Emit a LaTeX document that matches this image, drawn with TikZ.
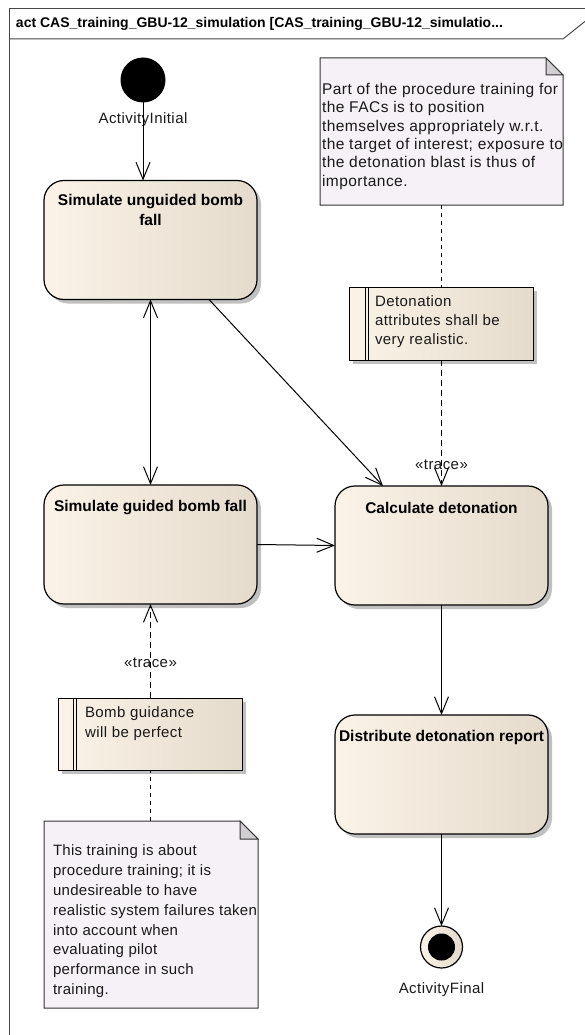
\documentclass[tikz,border=0pt]{standalone}
\usepackage{fontspec}
\setmainfont{Liberation Sans}
\newfontfamily\spacedfont[LetterSpace=3]{Liberation Sans}
\newfontfamily\tightfont[LetterSpace=2]{Liberation Sans}
\usetikzlibrary{arrows.meta,shadows,calc}

\definecolor{creamL}{RGB}{251,243,231}
\definecolor{creamR}{RGB}{228,219,204}
\definecolor{notefill}{RGB}{246,241,246}
\definecolor{foldfill}{RGB}{210,206,212}
\definecolor{shadowgray}{RGB}{192,192,192}
\definecolor{framegray}{RGB}{70,70,70}

\begin{document}
\begin{tikzpicture}[x=1pt,y=-1pt,
  base/.style={inner sep=0pt, outer sep=0pt},
  txt/.style={base, font=\spacedfont\fontsize{15}{18}\selectfont, text=black!90},
  notetxt/.style={txt, anchor=north west, align=left},
  actbox/.style={base, draw=black, line width=1.2pt, rounded corners=20pt,
    left color=creamL, right color=creamR,
    drop shadow={shadow xshift=4pt, shadow yshift=-4pt, fill=shadowgray, opacity=1},
    minimum width=213pt, minimum height=119pt},
  acttitle/.style={base, anchor=north, align=center,
    font=\bfseries\fontsize{15.5}{20}\selectfont},
  reqbox/.style={base, anchor=north west, draw=black, line width=1pt,
    left color=creamL, right color=creamR,
    drop shadow={shadow xshift=4pt, shadow yshift=-4pt, fill=shadowgray, opacity=1},
    minimum width=184pt, minimum height=73pt},
  noteframe/.style={base, anchor=north west},
  noteline/.style={draw=black!80, line width=1pt, fill=notefill},
  foldline/.style={draw=black!80, line width=1pt, fill=foldfill},
  flow/.style={draw=black, line width=1pt, -{Straight Barb[length=17pt,width=14pt]}},
  traceflow/.style={flow, dash pattern=on 6pt off 4pt},
  anchorline/.style={draw=black, line width=1pt, dash pattern=on 4pt off 4pt},
]
\useasboundingbox (0,0) rectangle (585,1035);
\fill[white] (0,0) rectangle (585,1035);

% diagram frame and its name tab
\draw[framegray, line width=1pt] (9,1035) -- (9,9) -- (585,9);
\draw[framegray, line width=1pt] (9,39) -- (563,39) -- (585,21.4);
\node[base, anchor=west, font=\bfseries\fontsize{14}{16}\selectfont] (title) at (16,24)
  {act CAS\_training\_GBU-12\_simulation [CAS\_training\_GBU-12\_simulatio...};

% start and end of the activity
\node[base, circle, fill=black, minimum size=45pt] (init) at (143,80) {};
\node[txt] (initL) at (143,120) {ActivityInitial};

\node[base, circle, draw=black, line width=1.2pt, left color=creamL, right color=creamR,
  minimum size=42pt] (final) at (441.5,947) {};
\node[base, circle, fill=black, minimum size=27pt] (finalIn) at (final.center) {};
\node[txt] (finalL) at (441.5,990) {ActivityFinal};

% actions
\node[actbox] (unguided) at (150.5,240) {};
\node[acttitle] (unguidedT) at ([yshift=-14pt]unguided.north) {Simulate unguided bomb\\fall};

\node[actbox] (guided) at (150.5,544.5) {};
\node[acttitle] (guidedT) at ([yshift=-15pt]guided.north) {Simulate guided bomb fall};

\node[actbox] (calc) at (441.5,545.5) {};
\node[acttitle] (calcT) at ([yshift=-16pt]calc.north) {Calculate detonation};

\node[actbox] (distr) at (441.5,774.5) {};
\node[acttitle] (distrT) at ([yshift=-15pt]distr.north) {Distribute detonation report};

% requirements
\node[reqbox] (reqDet) at (349,287) {};
\draw[line width=1pt] ([xshift=16pt]reqDet.north west) -- ([xshift=16pt]reqDet.south west);
\draw[line width=1pt] ([xshift=19pt]reqDet.north west) -- ([xshift=19pt]reqDet.south west);
\node[notetxt, font=\spacedfont\fontsize{15}{19}\selectfont] (reqDetT) at (375,296)
  {Detonation\\attributes shall be\\very realistic.};

\node[reqbox, minimum height=72pt] (reqGuid) at (58,698) {};
\draw[line width=1pt] ([xshift=15pt]reqGuid.north west) -- ([xshift=15pt]reqGuid.south west);
\draw[line width=1pt] ([xshift=18pt]reqGuid.north west) -- ([xshift=18pt]reqGuid.south west);
\node[notetxt, font=\spacedfont\fontsize{15}{20}\selectfont] (reqGuidT) at (85,707)
  {Bomb guidance\\will be perfect};

% notes with folded corners
\node[noteframe, minimum width=243pt, minimum height=147pt] (noteTop) at (320,58) {};
\path[noteline] (noteTop.north west) -- ([xshift=-17pt]noteTop.north east)
  -- ([yshift=-17pt]noteTop.north east) -- (noteTop.south east) -- (noteTop.south west) -- cycle;
\path[foldline] ([xshift=-17pt]noteTop.north east) -- ([xshift=-17pt,yshift=-17pt]noteTop.north east)
  -- ([yshift=-17pt]noteTop.north east) -- cycle;
\node[notetxt, font=\spacedfont\fontsize{15.5}{18.4}\selectfont] (noteTopT) at (322,83)
  {Part of the procedure training for\\the FACs is to position\\themselves appropriately w.r.t.\\the target of interest; exposure to\\the detonation blast is thus of\\importance.};

\node[noteframe, minimum width=214pt, minimum height=187pt] (noteBot) at (44,821) {};
\path[noteline] (noteBot.north west) -- ([xshift=-18pt]noteBot.north east)
  -- ([yshift=-18pt]noteBot.north east) -- (noteBot.south east) -- (noteBot.south west) -- cycle;
\path[foldline] ([xshift=-18pt]noteBot.north east) -- ([xshift=-18pt,yshift=-18pt]noteBot.north east)
  -- ([yshift=-18pt]noteBot.north east) -- cycle;
\node[notetxt, font=\tightfont\fontsize{15}{19.8}\selectfont] (noteBotT) at (53,845)
  {This training is about\\procedure training; it is\\undesireable to have\\realistic system failures taken\\into account when\\evaluating pilot\\performance in such\\training.};

% control flow
\draw[flow] (init.south) -- ([xshift=-7.5pt]unguided.north);
\draw[flow, {Straight Barb[length=17pt,width=14pt]}-{Straight Barb[length=17pt,width=14pt]}]
  (unguided.south) -- (guided.north);
\draw[flow] ([xshift=-48pt]unguided.south east) -- ([xshift=-58.5pt]calc.north);
\draw[flow] (guided.east) -- (calc.west);
\draw[flow] (calc.south) -- (distr.north);
\draw[flow] (distr.south) -- (final.north);

% note anchors and trace links
\draw[anchorline] (noteTop.south -| calc.north) -- (reqDet.north -| calc.north);
\draw[traceflow] (reqDet.south -| calc.north) -- (calc.north);
\node[txt] (traceDet) at (441.5,465) {«trace»};

\draw[anchorline] (noteBot.north -| guided.north) -- (reqGuid.south -| guided.north);
\draw[traceflow] (reqGuid.north -| guided.north) -- (guided.south);
\node[txt] (traceGuid) at (150.5,663) {«trace»};
\end{tikzpicture}
\end{document}
